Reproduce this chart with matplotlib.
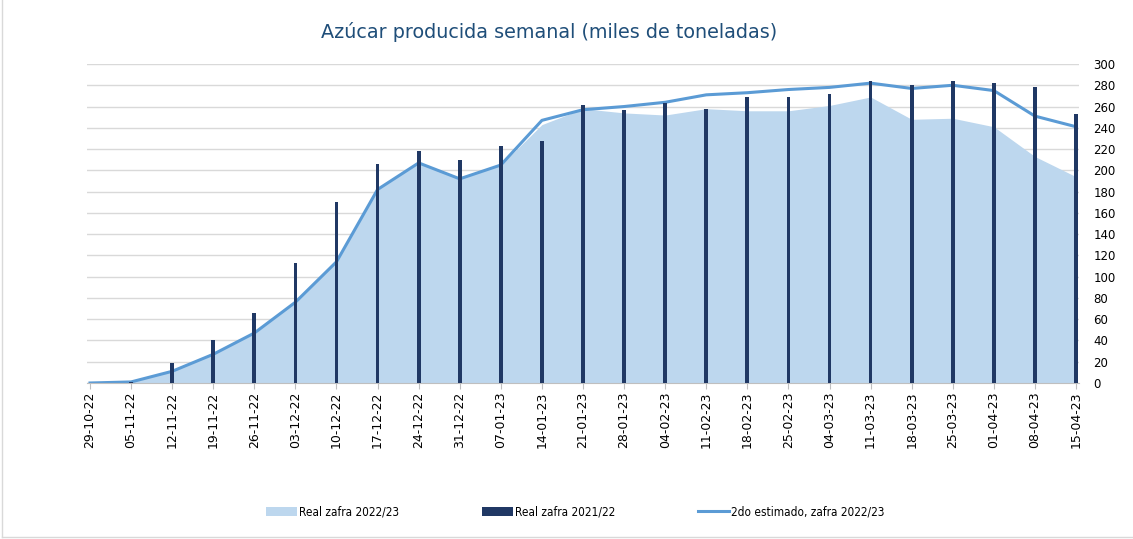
import matplotlib.pyplot as plt
from matplotlib.patches import Patch
from matplotlib.lines import Line2D
import numpy as np

semanas = ['29-10-22', '05-11-22', '12-11-22', '19-11-22', '26-11-22', '03-12-22',
           '10-12-22', '17-12-22', '24-12-22', '31-12-22', '07-01-23', '14-01-23',
           '21-01-23', '28-01-23', '04-02-23', '11-02-23', '18-02-23', '25-02-23',
           '04-03-23', '11-03-23', '18-03-23', '25-03-23', '01-04-23', '08-04-23',
           '15-04-23']

# Real zafra 2022/23 (area)
real_2223 = [0, 1, 11, 27, 47, 76, 114, 182, 207, 192, 205, 243, 258, 254, 252,
             258, 256, 256, 261, 269, 248, 249, 241, 213, 194]
# Real zafra 2021/22 (barras)
real_2122 = [0, 1, 19, 40, 66, 113, 170, 206, 218, 210, 223, 228, 261, 257, 263,
             258, 269, 269, 272, 284, 280, 284, 282, 278, 253]
# 2do estimado, zafra 2022/23 (linea)
estimado = [0, 1, 11, 27, 47, 76, 114, 182, 207, 192, 205, 247, 257, 260, 264,
            271, 273, 276, 278, 282, 277, 280, 275, 251, 241]

c_area = '#BDD7EE'
c_bar = '#203864'
c_line = '#5B9BD5'

fig = plt.figure(figsize=(11.33, 5.39), dpi=100)
ax = fig.add_axes([86.7 / 1133, 1 - 383 / 539, (1079.3 - 86.7) / 1133, (383 - 64) / 539])

x = np.arange(len(semanas))
ax.fill_between(x, real_2223, 0, color=c_area, linewidth=0, zorder=1)
ax.plot(x, estimado, color=c_line, linewidth=2.2, zorder=2)
ax.bar(x, real_2122, width=0.09, color=c_bar, zorder=3)

ax.set_xlim(-0.08, len(semanas) - 1 + 0.08)
ax.set_ylim(0, 300)
ax.set_yticks(range(0, 301, 20))
ax.yaxis.tick_right()
ax.tick_params(axis='y', length=0, labelsize=8.5, pad=10)
ax.set_xticks(x)
ax.set_xticklabels(semanas, rotation=90, fontsize=9)
ax.tick_params(axis='x', length=4, color='#BFBFBF', pad=2)
ax.grid(axis='y', color='#D9D9D9', linewidth=1)
ax.set_axisbelow(True)
for s in ['top', 'left', 'right']:
    ax.spines[s].set_visible(False)
ax.spines['bottom'].set_color('#BFBFBF')

fig.text(0.485, 0.94, 'Azúcar producida semanal (miles de toneladas)', ha='center', va='center',
         fontsize=13.8, color='#1F4E79')

handles = [Patch(facecolor=c_area, edgecolor='none'),
           Patch(facecolor=c_bar, edgecolor='none'),
           Line2D([0], [0], color=c_line, linewidth=2.2)]
labels = ['Real zafra 2022/23', 'Real zafra 2021/22', '2do estimado, zafra 2022/23']
fig.legend(handles, labels, loc='center', bbox_to_anchor=(0.508, 0.05), ncol=3, frameon=False,
           prop={'size': 8.5, 'stretch': 'condensed'}, handlelength=2.6, handleheight=0.9,
           handletextpad=0.2, columnspacing=7.0)

fig.add_artist(Line2D([0.002, 0.002], [0.003, 1.0], transform=fig.transFigure, color='#D9D9D9', linewidth=1))
fig.add_artist(Line2D([0.002, 1.0], [0.003, 0.003], transform=fig.transFigure, color='#D9D9D9', linewidth=1))

fig.savefig('out.png', dpi=100)
